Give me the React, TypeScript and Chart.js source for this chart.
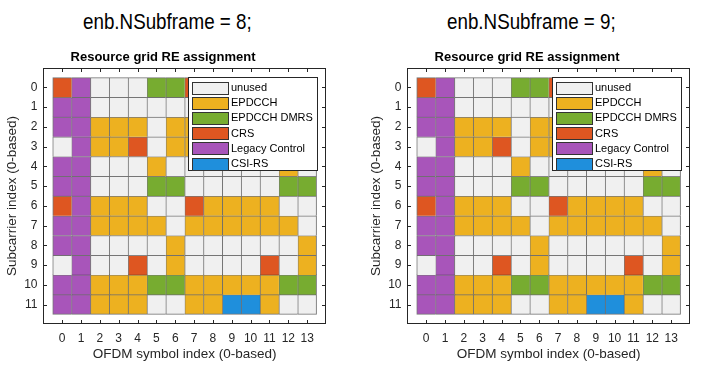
import React, { useEffect, useRef } from 'react';
import { Chart, registerables } from 'chart.js';

Chart.register(...registerables);

// ---- data ----
const categories = ['unused', 'EPDCCH', 'EPDCCH DMRS', 'CRS', 'Legacy Control', 'CSI-RS'];
const categoryColors = ['#F0F0F0', '#EDB120', '#77AC30', '#DE5621', '#A855BA', '#1F8FDC'];
const symbolTicks = [0, 1, 2, 3, 4, 5, 6, 7, 8, 9, 10, 11, 12, 13];
const subcarrierTicks = [0, 1, 2, 3, 4, 5, 6, 7, 8, 9, 10, 11];
const subframeLabels = ['enb.NSubframe = 8;', 'enb.NSubframe = 9;'];
const chartTitle = 'Resource grid RE assignment';
const xAxisLabel = 'OFDM symbol index (0-based)';
const yAxisLabel = 'Subcarrier index (0-based)';

// category index per OFDM symbol (0..13), one array per subcarrier (0..11)
// 0 unused, 1 EPDCCH, 2 EPDCCH DMRS, 3 CRS, 4 Legacy Control, 5 CSI-RS
const subframe8Rows = [
  [3, 4, 0, 0, 0, 2, 2, 3, 0, 0, 0, 0, 2, 2],
  [4, 4, 0, 0, 0, 0, 0, 0, 0, 0, 0, 0, 0, 0],
  [4, 4, 1, 1, 1, 0, 1, 1, 1, 1, 1, 1, 0, 1],
  [0, 4, 1, 1, 3, 0, 1, 1, 1, 1, 1, 3, 0, 1],
  [4, 4, 0, 0, 0, 1, 0, 0, 0, 0, 0, 0, 1, 0],
  [4, 4, 0, 0, 0, 2, 2, 0, 0, 0, 0, 0, 2, 2],
  [3, 4, 1, 1, 1, 0, 0, 3, 1, 1, 1, 1, 0, 0],
  [4, 4, 1, 1, 1, 1, 0, 1, 1, 1, 1, 1, 1, 0],
  [4, 4, 0, 0, 0, 0, 1, 0, 0, 0, 0, 0, 0, 1],
  [0, 4, 0, 0, 3, 0, 1, 0, 0, 0, 0, 3, 0, 1],
  [4, 4, 1, 1, 1, 2, 2, 1, 1, 1, 1, 1, 2, 2],
  [4, 4, 1, 1, 1, 0, 0, 1, 1, 5, 5, 1, 0, 0],
];
const subframe9Rows = [
  [3, 4, 0, 0, 0, 2, 2, 3, 0, 0, 0, 0, 2, 2],
  [4, 4, 0, 0, 0, 0, 0, 0, 0, 0, 0, 0, 0, 0],
  [4, 4, 1, 1, 1, 0, 1, 1, 1, 1, 1, 1, 0, 1],
  [0, 4, 1, 1, 3, 0, 1, 1, 1, 1, 1, 3, 0, 1],
  [4, 4, 0, 0, 0, 1, 0, 0, 0, 0, 0, 0, 1, 0],
  [4, 4, 0, 0, 0, 2, 2, 0, 0, 0, 0, 0, 2, 2],
  [3, 4, 1, 1, 1, 0, 0, 3, 1, 1, 1, 1, 0, 0],
  [4, 4, 1, 1, 1, 1, 0, 1, 1, 1, 1, 1, 1, 0],
  [4, 4, 0, 0, 0, 0, 1, 0, 0, 0, 0, 0, 0, 1],
  [0, 4, 0, 0, 3, 0, 1, 0, 0, 0, 0, 3, 0, 1],
  [4, 4, 1, 1, 1, 2, 2, 1, 1, 1, 1, 1, 2, 2],
  [4, 4, 1, 1, 1, 0, 0, 1, 1, 5, 5, 1, 0, 0],
];

// ---- styling ----
const FONT = '"Liberation Sans", Arial, Helvetica, sans-serif';
const AXIS_COLOR = '#262626';
const CELL_EDGE = 'rgba(45,45,45,0.65)';
const CANVAS_W = 364;
const CANVAS_H = 375;
const TICK_LEN = 3.5;

function buildDatasets(rows: number[][]) {
  const lastCol = symbolTicks[symbolTicks.length - 1];
  const lastRow = subcarrierTicks[subcarrierTicks.length - 1];
  return categories.map((label, k) => {
    const data: { x: number; y: [number, number] }[] = [];
    rows.forEach((row, r) =>
      row.forEach((v, c) => {
        if (v === k) {
          const sc = subcarrierTicks[r];
          data.push({ x: symbolTicks[c], y: [sc - 0.5, sc + 0.5] });
        }
      })
    );
    return {
      label,
      data,
      backgroundColor: categoryColors[k],
      borderColor: CELL_EDGE,
      borderWidth: (ctx: any) => {
        const raw = ctx.raw;
        if (!raw) return 1;
        return {
          left: 1,
          top: 1,
          right: raw.x === lastCol ? 1 : 0,
          bottom: raw.y[0] + 0.5 === lastRow ? 1 : 0,
        };
      },
      borderSkipped: false,
      grouped: false,
      barPercentage: 1,
      categoryPercentage: 1,
    };
  });
}

const matlabAxesPlugin = {
  id: 'matlabAxes',
  afterDraw(chart: any) {
    const { ctx, chartArea: a } = chart;
    const xs = chart.scales.x;
    const ys = chart.scales.y;
    ctx.save();
    ctx.strokeStyle = AXIS_COLOR;
    ctx.lineWidth = 1;
    const L = Math.round(a.left) + 0.5;
    const R = Math.round(a.right) - 0.5;
    const T = Math.round(a.top) + 0.5;
    const B = Math.round(a.bottom) - 0.5;
    // inward tick marks on all four sides
    ctx.beginPath();
    symbolTicks.forEach((v) => {
      const p = Math.round(xs.getPixelForValue(v)) + 0.5;
      ctx.moveTo(p, B);
      ctx.lineTo(p, B - TICK_LEN);
      ctx.moveTo(p, T);
      ctx.lineTo(p, T + TICK_LEN);
    });
    subcarrierTicks.forEach((v) => {
      const p = Math.round(ys.getPixelForValue(v)) + 0.5;
      ctx.moveTo(L, p);
      ctx.lineTo(L + TICK_LEN, p);
      ctx.moveTo(R, p);
      ctx.lineTo(R - TICK_LEN, p);
    });
    ctx.stroke();

    // legend box (north-east, inside axes)
    const lw = 129;
    const lh = 93;
    const lx = Math.round(a.right - 9.3 - lw) + 0.5;
    const ly = Math.round(a.top + 9.6) + 0.5;
    ctx.fillStyle = '#ffffff';
    ctx.fillRect(lx, ly, lw, lh);
    ctx.strokeStyle = AXIS_COLOR;
    ctx.strokeRect(lx, ly, lw, lh);
    ctx.font = `11px ${FONT}`;
    ctx.textBaseline = 'middle';
    ctx.textAlign = 'left';
    chart.data.datasets.forEach((ds: any, i: number) => {
      const cy = ly + 10 + i * 15.2;
      const sx = Math.round(lx + 3) + 0.5;
      const sy = Math.round(cy - 6) + 0.5;
      ctx.fillStyle = ds.backgroundColor;
      ctx.fillRect(sx, sy, 36, 12);
      ctx.strokeStyle = '#333333';
      ctx.strokeRect(sx, sy, 36, 12);
      ctx.fillStyle = '#000000';
      ctx.fillText(ds.label, lx + 42.5, cy + 0.5);
    });

    // axes box
    ctx.strokeStyle = AXIS_COLOR;
    ctx.strokeRect(L, T, R - L, B - T);
    ctx.restore();
  },
};

function SubframeChart({ rows, left, caption }: { rows: number[][]; left: number; caption: string }) {
  const ref = useRef<HTMLCanvasElement | null>(null);
  useEffect(() => {
    if (!ref.current) return;
    const chart = new Chart(ref.current, {
      type: 'bar',
      data: { datasets: buildDatasets(rows) as any },
      plugins: [matlabAxesPlugin],
      options: {
        responsive: false,
        animation: false,
        devicePixelRatio: 1,
        layout: { padding: { left: 0, right: CANVAS_W - 326, top: 0, bottom: 0 } },
        plugins: {
          legend: { display: false },
          tooltip: { enabled: false },
          title: {
            display: true,
            text: chartTitle,
            color: '#000000',
            font: { family: FONT, size: 13, weight: 'bold' },
            padding: { top: 49.2, bottom: 2.9 },
          },
        },
        scales: {
          x: {
            type: 'linear',
            min: -1,
            max: 14,
            offset: false,
            grid: { display: false, drawTicks: false },
            border: { display: false },
            afterBuildTicks: (s: any) => {
              s.ticks = symbolTicks.map((v) => ({ value: v }));
            },
            afterFit: (s: any) => {
              s.height = CANVAS_H - 324.3;
            },
            ticks: {
              autoSkip: false,
              maxRotation: 0,
              padding: 7.5,
              color: AXIS_COLOR,
              font: { family: FONT, size: 12 },
              callback: (v: any) => String(v),
            },
            title: {
              display: true,
              text: xAxisLabel,
              color: AXIS_COLOR,
              font: { family: FONT, size: 13.5 },
              padding: { top: 0, bottom: 12.4 },
            },
          },
          y: {
            type: 'linear',
            min: -1,
            max: 12,
            reverse: true,
            grid: { display: false, drawTicks: false },
            border: { display: false },
            afterBuildTicks: (s: any) => {
              s.ticks = subcarrierTicks.map((v) => ({ value: v }));
            },
            afterFit: (s: any) => {
              s.width = 43.3;
            },
            ticks: {
              autoSkip: false,
              padding: 5.8,
              color: AXIS_COLOR,
              font: { family: FONT, size: 12 },
              callback: (v: any) => String(v),
            },
            title: {
              display: true,
              text: yAxisLabel,
              color: AXIS_COLOR,
              font: { family: FONT, size: 13.5 },
              padding: { top: 3.9, bottom: 0 },
            },
          },
        },
      } as any,
    });
    return () => chart.destroy();
  }, [rows]);

  return (
    <>
      <div
        style={{
          position: 'absolute',
          left: left + 82.7,
          top: 10.9,
          fontFamily: FONT,
          fontSize: 22.5,
          lineHeight: 1,
          color: '#000',
          whiteSpace: 'nowrap',
          transform: 'scaleX(0.835)',
          transformOrigin: '0 0',
        }}
      >
        {caption}
      </div>
      <canvas
        ref={ref}
        width={CANVAS_W}
        height={CANVAS_H}
        style={{ position: 'absolute', left, top: 0, width: CANVAS_W, height: CANVAS_H, display: 'block' }}
      />
    </>
  );
}

export default function App() {
  return (
    <div
      style={{
        position: 'fixed',
        left: 0,
        top: 0,
        width: 707,
        height: 375,
        overflow: 'hidden',
        background: '#ffffff',
      }}
    >
      <SubframeChart rows={subframe8Rows} left={0} caption={subframeLabels[0]} />
      <SubframeChart rows={subframe9Rows} left={364} caption={subframeLabels[1]} />
    </div>
  );
}
